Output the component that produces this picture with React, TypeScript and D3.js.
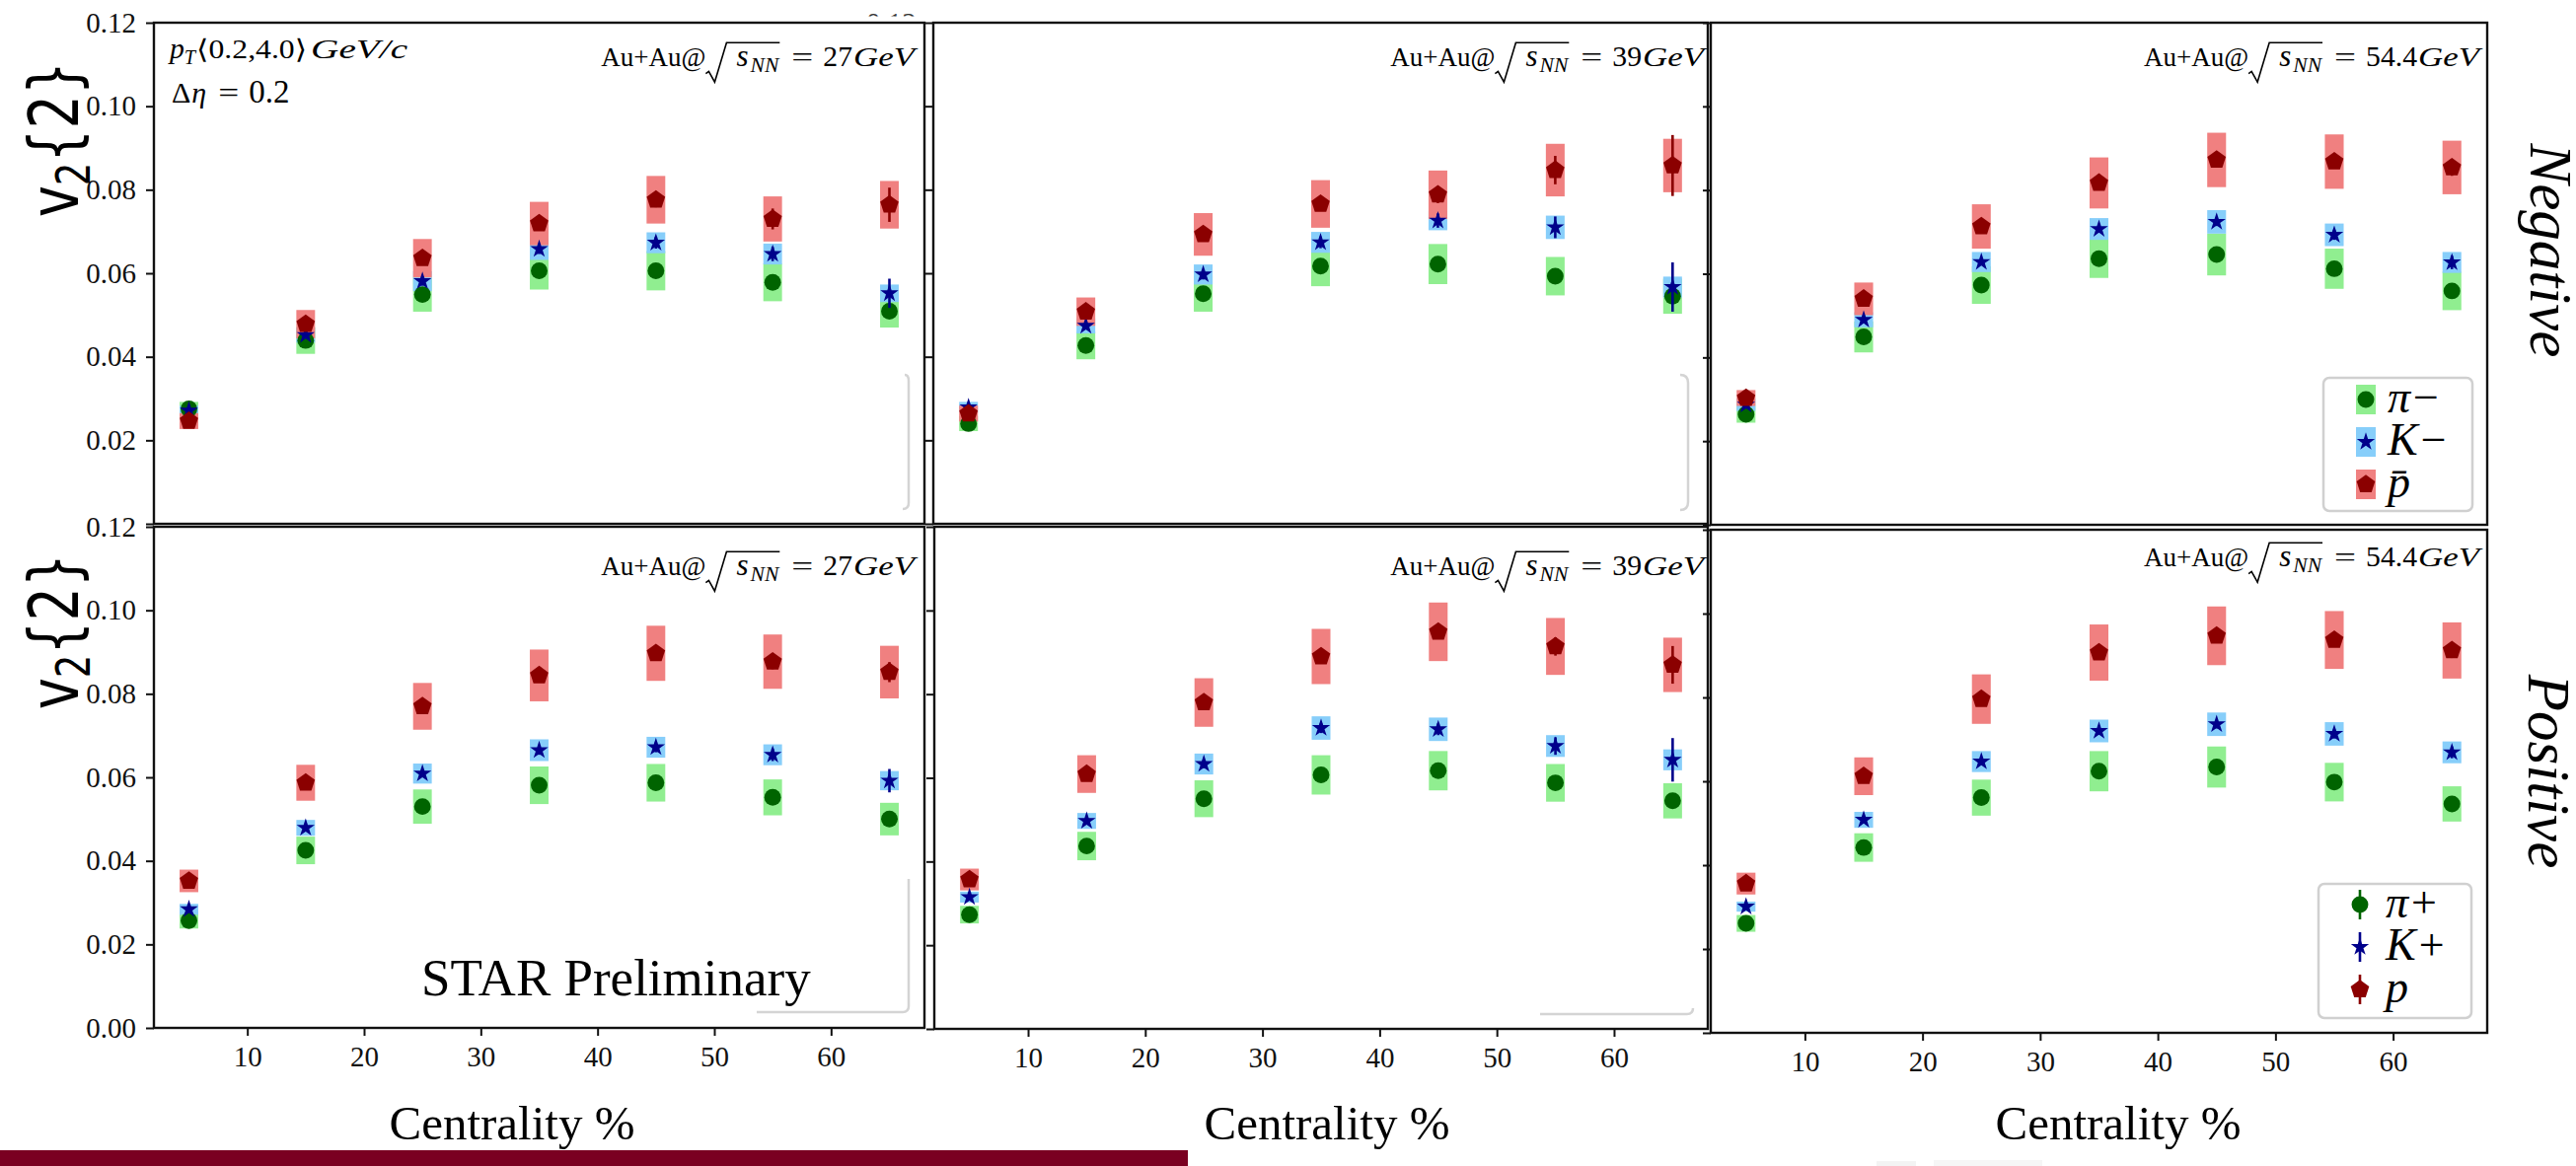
import React, { useEffect, useRef } from 'react';
import * as d3 from 'd3';

const W = 2611;
const H = 1182;

const centrality = [5, 15, 25, 35, 45, 55, 65];
const yTicks = [0, 0.02, 0.04, 0.06, 0.08, 0.1, 0.12];
const xTicks = [10, 20, 30, 40, 50, 60];
const energies = ['27', '39', '54.4'];
const chargeLabels = ['Negative', 'Positive'];
const negLegend = ['π−', 'K−', 'p̄'];
const posLegend = ['π+', 'K+', 'p'];

// negative particles, 27 GeV
const piMinus27 = [0.0275, 0.0439, 0.0549, 0.0606, 0.0606, 0.0578, 0.0509];
const piMinus27Sys = [0.0017, 0.0032, 0.0041, 0.0045, 0.0047, 0.0045, 0.0039];
const piMinus27Stat = [0.0003, 0.0004, 0.0005, 0.0006, 0.0007, 0.0008, 0.0011];
const kMinus27 = [0.0271, 0.0452, 0.0581, 0.0658, 0.0673, 0.0646, 0.0552];
const kMinus27Sys = [0.0012, 0.0018, 0.0024, 0.0026, 0.0025, 0.0025, 0.0021];
const kMinus27Stat = [0.0006, 0.0008, 0.0011, 0.0012, 0.0014, 0.0017, 0.0035];
const pbar27 = [0.0246, 0.0478, 0.0636, 0.0719, 0.0776, 0.073, 0.0764];
const pbar27Sys = [0.0019, 0.0034, 0.0046, 0.0052, 0.0057, 0.0054, 0.0057];
const pbar27Stat = [0.0007, 0.001, 0.0013, 0.0015, 0.0018, 0.0025, 0.0041];

// negative particles, 39 GeV
const piMinus39 = [0.024, 0.0427, 0.0551, 0.0617, 0.0622, 0.0593, 0.0545];
const piMinus39Sys = [0.0018, 0.0033, 0.0043, 0.0048, 0.0048, 0.0046, 0.0042];
const piMinus39Stat = [0.0003, 0.0004, 0.0005, 0.0006, 0.0007, 0.0009, 0.0013];
const kMinus39 = [0.0279, 0.0474, 0.0597, 0.0674, 0.0726, 0.071, 0.0567];
const kMinus39Sys = [0.0013, 0.0018, 0.0024, 0.0025, 0.0023, 0.0028, 0.0025];
const kMinus39Stat = [0.0007, 0.0009, 0.0012, 0.0014, 0.0017, 0.0026, 0.0059];
const pbar39 = [0.0264, 0.0508, 0.0693, 0.0766, 0.0788, 0.0847, 0.0858];
const pbar39Sys = [0.0019, 0.0034, 0.0051, 0.0057, 0.0058, 0.0063, 0.0064];
const pbar39Stat = [0.0008, 0.0011, 0.0014, 0.0016, 0.002, 0.0034, 0.0073];

// negative particles, 54.4 GeV
const piMinus54 = [0.0264, 0.0449, 0.0573, 0.0636, 0.0646, 0.0612, 0.0559];
const piMinus54Sys = [0.002, 0.0037, 0.0045, 0.0046, 0.005, 0.0048, 0.0046];
const piMinus54Stat = [0.0002, 0.0003, 0.0004, 0.0005, 0.0005, 0.0006, 0.0008];
const kMinus54 = [0.0287, 0.049, 0.0628, 0.0707, 0.0724, 0.0693, 0.0627];
const kMinus54Sys = [0.0015, 0.0018, 0.0024, 0.0026, 0.0028, 0.0027, 0.0025];
const kMinus54Stat = [0.0005, 0.0006, 0.0008, 0.0009, 0.001, 0.0012, 0.0016];
const pbar54 = [0.0303, 0.054, 0.0713, 0.0817, 0.0872, 0.0868, 0.0854];
const pbar54Sys = [0.0019, 0.0039, 0.0053, 0.0061, 0.0065, 0.0065, 0.0064];
const pbar54Stat = [0.0006, 0.0008, 0.001, 0.0012, 0.0013, 0.0016, 0.002];

// positive particles, 27 GeV
const piPlus27 = [0.0257, 0.0425, 0.053, 0.0581, 0.0587, 0.0552, 0.05];
const piPlus27Sys = [0.0019, 0.0033, 0.0041, 0.0045, 0.0045, 0.0043, 0.0039];
const piPlus27Stat = [0.0003, 0.0004, 0.0005, 0.0006, 0.0006, 0.0008, 0.001];
const kPlus27 = [0.0284, 0.0479, 0.0609, 0.0665, 0.0672, 0.0654, 0.0592];
const kPlus27Sys = [0.0013, 0.0019, 0.0024, 0.0026, 0.0025, 0.0025, 0.0023];
const kPlus27Stat = [0.0006, 0.0007, 0.0009, 0.0011, 0.0012, 0.0015, 0.0028];
const p27 = [0.0352, 0.0587, 0.077, 0.0844, 0.0897, 0.0877, 0.0852];
const p27Sys = [0.0027, 0.0043, 0.0056, 0.0062, 0.0066, 0.0065, 0.0063];
const p27Stat = [0.0007, 0.0009, 0.0011, 0.0013, 0.0015, 0.0018, 0.0024];

// positive particles, 39 GeV
const piPlus39 = [0.0273, 0.0437, 0.055, 0.0607, 0.0617, 0.0588, 0.0545];
const piPlus39Sys = [0.0021, 0.0034, 0.0044, 0.0047, 0.0047, 0.0045, 0.0042];
const piPlus39Stat = [0.0003, 0.0004, 0.0005, 0.0006, 0.0007, 0.0009, 0.0012];
const kPlus39 = [0.0315, 0.0497, 0.0633, 0.0719, 0.0716, 0.0676, 0.0643];
const kPlus39Sys = [0.0013, 0.0019, 0.0025, 0.0028, 0.0028, 0.0026, 0.0025];
const kPlus39Stat = [0.0006, 0.0008, 0.001, 0.0012, 0.0014, 0.0021, 0.0052];
const p39 = [0.0357, 0.0609, 0.078, 0.089, 0.0949, 0.0914, 0.087];
const p39Sys = [0.0026, 0.0045, 0.0058, 0.0066, 0.007, 0.0068, 0.0065];
const p39Stat = [0.0008, 0.001, 0.0012, 0.0014, 0.0016, 0.0022, 0.0045];

// positive particles, 54.4 GeV
const piPlus54 = [0.0261, 0.0442, 0.0561, 0.0624, 0.0634, 0.0598, 0.0546];
const piPlus54Sys = [0.002, 0.0034, 0.0043, 0.0048, 0.0049, 0.0046, 0.0042];
const piPlus54Stat = [0.0002, 0.0003, 0.0004, 0.0005, 0.0005, 0.0006, 0.0008];
const kPlus54 = [0.0301, 0.0508, 0.0647, 0.072, 0.0736, 0.0713, 0.0669];
const kPlus54Sys = [0.0012, 0.0019, 0.0025, 0.0027, 0.0028, 0.0028, 0.0026];
const kPlus54Stat = [0.0005, 0.0006, 0.0008, 0.0009, 0.001, 0.0011, 0.0014];
const p54 = [0.0356, 0.0612, 0.0796, 0.0907, 0.0947, 0.0937, 0.0912];
const p54Sys = [0.0026, 0.0045, 0.0059, 0.0067, 0.007, 0.0069, 0.0067];
const p54Stat = [0.0006, 0.0008, 0.001, 0.0011, 0.0012, 0.0014, 0.0018];

// [row][col] -> [pi, K, p]
const panelData = [
  [
    [[piMinus27, piMinus27Sys, piMinus27Stat], [kMinus27, kMinus27Sys, kMinus27Stat], [pbar27, pbar27Sys, pbar27Stat]],
    [[piMinus39, piMinus39Sys, piMinus39Stat], [kMinus39, kMinus39Sys, kMinus39Stat], [pbar39, pbar39Sys, pbar39Stat]],
    [[piMinus54, piMinus54Sys, piMinus54Stat], [kMinus54, kMinus54Sys, kMinus54Stat], [pbar54, pbar54Sys, pbar54Stat]],
  ],
  [
    [[piPlus27, piPlus27Sys, piPlus27Stat], [kPlus27, kPlus27Sys, kPlus27Stat], [p27, p27Sys, p27Stat]],
    [[piPlus39, piPlus39Sys, piPlus39Stat], [kPlus39, kPlus39Sys, kPlus39Stat], [p39, p39Sys, p39Stat]],
    [[piPlus54, piPlus54Sys, piPlus54Stat], [kPlus54, kPlus54Sys, kPlus54Stat], [p54, p54Sys, p54Stat]],
  ],
];

// pixel layout of the six pasted panels
const layout = [
  [
    { x0: 156, x1: 937, y0: 23, y1: 531, note: 44, noteRight: 10 },
    { x0: 946, x1: 1731, y0: 23, y1: 531, note: 44, noteRight: 4 },
    { x0: 1734, x1: 2521, y0: 23, y1: 532, note: 44, noteRight: 8 },
  ],
  [
    { x0: 156, x1: 937, y0: 534, y1: 1042, note: 49, noteRight: 10 },
    { x0: 947, x1: 1731, y0: 534, y1: 1043, note: 49, noteRight: 4 },
    { x0: 1734, x1: 2521, y0: 537, y1: 1047, note: 37, noteRight: 8 },
  ],
];
const xlabelCenters = [519, 1345, 2147];

const SERIF = '"Liberation Serif", "DejaVu Serif", serif';
const boxColors = ['#90ee90', '#87cefa', '#f08080'];
const markColors = ['#006400', '#00008b', '#8b0000'];

const symbolPentagon = {
  draw(ctx: any, size: number) {
    const r = Math.sqrt(size / 2.378);
    for (let i = 0; i < 5; i++) {
      const a = -Math.PI / 2 + (i * 2 * Math.PI) / 5;
      const px = r * Math.cos(a);
      const py = r * Math.sin(a);
      if (i === 0) ctx.moveTo(px, py);
      else ctx.lineTo(px, py);
    }
    ctx.closePath();
  },
};
const symbols = [
  d3.symbol().type(d3.symbolCircle).size(225),
  d3.symbol().type(d3.symbolStar).size(105),
  d3.symbol().type(symbolPentagon as any).size(230),
];

type Part = {
  t?: string;
  it?: boolean;
  sc?: number;
  dy?: number;
  gap?: number;
  pre?: number;
  len?: number;
  sqrt?: 'open' | 'close';
};

// lay out a small formula piece by piece, measuring each run
function mathText(parent: any, parts: Part[], x: number, y: number, size: number, anchor: 'start' | 'end') {
  const g = parent.append('g');
  let cx = 0;
  let sq = 0;
  parts.forEach((p) => {
    cx += p.pre || 0;
    if (p.sqrt === 'open') {
      sq = cx;
      cx += 31;
      return;
    }
    if (p.sqrt === 'close') {
      const top = -size * 0.88;
      g.append('path')
        .attr('d', `M${sq},${size * 0.28} L${sq + 3},${size * 0.2} L${sq + 9},${size * 0.6} L${sq + 21},${top} H${cx + 1}`)
        .attr('fill', 'none')
        .attr('stroke', '#000')
        .attr('stroke-width', 1.6);
      cx += 3;
      return;
    }
    const t = g
      .append('text')
      .attr('x', cx)
      .attr('y', p.dy || 0)
      .attr('font-family', SERIF)
      .attr('font-size', size * (p.sc || 1))
      .attr('font-style', p.it ? 'italic' : 'normal')
      .text(p.t as string);
    if (p.len) {
      t.attr('textLength', p.len).attr('lengthAdjust', 'spacingAndGlyphs');
      cx += p.len + (p.gap || 0);
    } else {
      cx += (t.node() as SVGTextElement).getComputedTextLength() + (p.gap || 0);
    }
  });
  g.attr('transform', `translate(${anchor === 'end' ? x - cx : x},${y})`);
}

const App = () => {
  const ref = useRef<SVGSVGElement>(null);

  useEffect(() => {
    const svg = d3.select(ref.current);
    svg.selectAll('*').remove();
    svg.append('rect').attr('width', W).attr('height', H).attr('fill', '#fff');

    // clipped leftover tick label above the middle panel
    svg.append('clipPath').attr('id', 'topclip').append('rect').attr('x', 860).attr('y', 0).attr('width', 90).attr('height', 16.5);
    svg.append('text')
      .attr('x', 878)
      .attr('y', 32.5)
      .attr('clip-path', 'url(#topclip)')
      .attr('font-family', SERIF)
      .attr('font-size', 29)
      .attr('fill', '#333')
      .text('0.12');

    [0, 1].forEach((row) => {
      [0, 1, 2].forEach((col) => {
        const L = layout[row][col];
        const x = d3.scaleLinear().domain([2, 68]).range([L.x0, L.x1]);
        const y = d3.scaleLinear().domain([0, 0.12]).range([L.y1, L.y0]);
        const g = svg.append('g');
        g.append('rect')
          .attr('x', L.x0)
          .attr('y', L.y0)
          .attr('width', L.x1 - L.x0)
          .attr('height', L.y1 - L.y0)
          .attr('fill', '#fff');

        const species = panelData[row][col];
        const bw = x(0.8) - x(0);
        // systematic boxes
        species.forEach(([vals, sys], s) => {
          g.selectAll(null)
            .data(centrality)
            .join('rect')
            .attr('x', (c) => x(c) - bw)
            .attr('width', bw * 2)
            .attr('y', (c, i) => y(vals[i] + sys[i]))
            .attr('height', (c, i) => y(vals[i] - sys[i]) - y(vals[i] + sys[i]))
            .attr('fill', boxColors[s]);
        });
        // statistical errors and markers
        species.forEach(([vals, , stat], s) => {
          g.selectAll(null)
            .data(centrality)
            .join('line')
            .attr('x1', (c) => x(c))
            .attr('x2', (c) => x(c))
            .attr('y1', (c, i) => y(vals[i] - stat[i]))
            .attr('y2', (c, i) => y(vals[i] + stat[i]))
            .attr('stroke', markColors[s])
            .attr('stroke-width', 2.6);
          g.selectAll(null)
            .data(centrality)
            .join('path')
            .attr('transform', (c, i) => `translate(${x(c)},${y(vals[i])})`)
            .attr('d', symbols[s]() as string)
            .attr('fill', markColors[s]);
        });

        // frame
        g.append('rect')
          .attr('x', L.x0)
          .attr('y', L.y0)
          .attr('width', L.x1 - L.x0)
          .attr('height', L.y1 - L.y0)
          .attr('fill', 'none')
          .attr('stroke', '#111')
          .attr('stroke-width', 2.4);

        const yAxis = d3
          .axisLeft(y)
          .tickValues(yTicks)
          .tickSize(8)
          .tickPadding(10)
          .tickFormat((d: any) => (col === 0 && !(row === 0 && d === 0) ? d3.format('.2f')(d) : ''));
        const ya = g.append('g').attr('transform', `translate(${L.x0},0)`).call(yAxis);
        ya.select('.domain').remove();
        ya.selectAll('line').attr('stroke', '#111').attr('stroke-width', 2);
        ya.selectAll('text').attr('font-family', SERIF).attr('font-size', 29).attr('fill', '#111');

        if (row === 1) {
          const xAxis = d3.axisBottom(x).tickValues(xTicks).tickSize(8).tickPadding(10);
          const xa = g.append('g').attr('transform', `translate(0,${L.y1})`).call(xAxis);
          xa.select('.domain').remove();
          xa.selectAll('line').attr('stroke', '#111').attr('stroke-width', 2);
          xa.selectAll('text').attr('font-family', SERIF).attr('font-size', 29).attr('fill', '#111');

          svg.append('text')
            .attr('x', xlabelCenters[col])
            .attr('y', 1155)
            .attr('text-anchor', 'middle')
            .attr('font-family', SERIF)
            .attr('font-size', 49)
            .text('Centrality %');
        }

        // energy annotation
        mathText(
          g,
          [
            { t: 'Au+Au@' },
            { sqrt: 'open' },
            { t: 's', it: true, sc: 1.15, gap: 2 },
            { t: 'NN', it: true, sc: 0.8, dy: 6 },
            { sqrt: 'close' },
            { t: '=', pre: 10, len: 22, gap: 10 },
            { t: energies[col], sc: 1.1, gap: 1 },
            { t: 'GeV', it: true, sc: 1.05, len: 62 },
          ],
          L.x1 - L.noteRight,
          L.y0 + L.note,
          27,
          'end'
        );
      });
    });

    // kinematic cuts
    mathText(
      svg,
      [
        { t: 'p', it: true, sc: 1.1 },
        { t: 'T', it: true, sc: 0.75, dy: 6, gap: 1 },
        { t: '⟨0.2,4.0⟩', len: 112, gap: 4 },
        { t: 'GeV/c', it: true, sc: 1.05, len: 98 },
      ],
      172,
      59,
      27,
      'start'
    );
    mathText(
      svg,
      [{ t: 'Δ', gap: 1 }, { t: 'η', it: true, gap: 12 }, { t: '=', len: 21, gap: 10 }, { t: '0.2', sc: 1.1 }],
      174,
      104,
      30,
      'start'
    );

    // v2{2} labels
    [141, 640].forEach((cy) => {
      const t = svg
        .append('text')
        .attr('transform', `translate(79,${cy}) rotate(-90)`)
        .attr('text-anchor', 'middle')
        .attr('font-family', '"DejaVu Sans", sans-serif')
        .attr('font-size', 70)
        .attr('textLength', 158)
        .attr('lengthAdjust', 'spacingAndGlyphs');
      t.append('tspan').text('v');
      t.append('tspan').attr('font-size', 48).attr('dy', 12).text('2');
      t.append('tspan').attr('dy', -12).text('{2}');
    });

    // Negative / Positive side labels
    [
      [2565, 254],
      [2563, 782],
    ].forEach(([bx, cy], i) => {
      svg.append('text')
        .attr('transform', `translate(${bx},${cy}) rotate(90)`)
        .attr('text-anchor', 'middle')
        .attr('font-family', SERIF)
        .attr('font-style', 'italic')
        .attr('font-size', 61)
        .text(chargeLabels[i]);
    });

    // STAR Preliminary
    svg.append('text')
      .attr('x', 427)
      .attr('y', 1009)
      .attr('font-family', SERIF)
      .attr('font-size', 53)
      .text('STAR Preliminary');

    // leftovers of covered legend frames
    const ghost = [
      'M917,380 Q921,380 921,386 V510 Q921,516 915,516',
      'M1703,380 Q1711,380 1711,388 V509 Q1711,517 1703,517',
      'M921,891 V1020 Q921,1026 915,1026 H767',
      'M1561,1028 H1710 Q1716,1028 1716,1022',
    ];
    ghost.forEach((d) =>
      svg.append('path').attr('d', d).attr('fill', 'none').attr('stroke', '#d4d4d4').attr('stroke-width', 2.5)
    );

    // legends
    const legends = [
      { x: 2355, y: 383, w: 151, h: 135, cy0: 405, mx: 2398, tx: 2420, labels: negLegend, boxes: true },
      { x: 2350, y: 896, w: 155, h: 136, cy0: 917, mx: 2392, tx: 2418, labels: posLegend, boxes: false },
    ];
    legends.forEach((lg) => {
      svg.append('rect')
        .attr('x', lg.x)
        .attr('y', lg.y)
        .attr('width', lg.w)
        .attr('height', lg.h)
        .attr('rx', 6)
        .attr('fill', '#fff')
        .attr('stroke', '#d0d0d0')
        .attr('stroke-width', 2.5);
      lg.labels.forEach((lab, s) => {
        const cy = lg.cy0 + s * 43;
        if (lg.boxes) {
          svg.append('rect').attr('x', lg.mx - 10).attr('y', cy - 15).attr('width', 20).attr('height', 30).attr('fill', boxColors[s]);
        } else {
          svg.append('line')
            .attr('x1', lg.mx)
            .attr('x2', lg.mx)
            .attr('y1', cy - 15)
            .attr('y2', cy + 15)
            .attr('stroke', markColors[s])
            .attr('stroke-width', 2.6);
        }
        svg.append('path')
          .attr('transform', `translate(${lg.mx},${cy})`)
          .attr('d', symbols[s]() as string)
          .attr('fill', markColors[s]);
        svg.append('text')
          .attr('x', lg.tx)
          .attr('y', cy + 13)
          .attr('font-family', SERIF)
          .attr('font-style', 'italic')
          .attr('font-size', 46)
          .text(lab);
      });
    });

    // bottom strip and faint watermark fragment
    svg.append('rect').attr('x', 0).attr('y', 1166).attr('width', 1204).attr('height', 16).attr('fill', '#7a0021');
    svg.append('rect').attr('x', 1902).attr('y', 1177).attr('width', 40).attr('height', 5).attr('fill', '#f3f3f3');
    svg.append('rect').attr('x', 1960).attr('y', 1176).attr('width', 110).attr('height', 6).attr('fill', '#f6f6f6');
  }, []);

  return (
    <svg
      ref={ref}
      width={W}
      height={H}
      style={{ position: 'absolute', left: 0, top: 0, display: 'block' }}
    />
  );
};

export default App;
